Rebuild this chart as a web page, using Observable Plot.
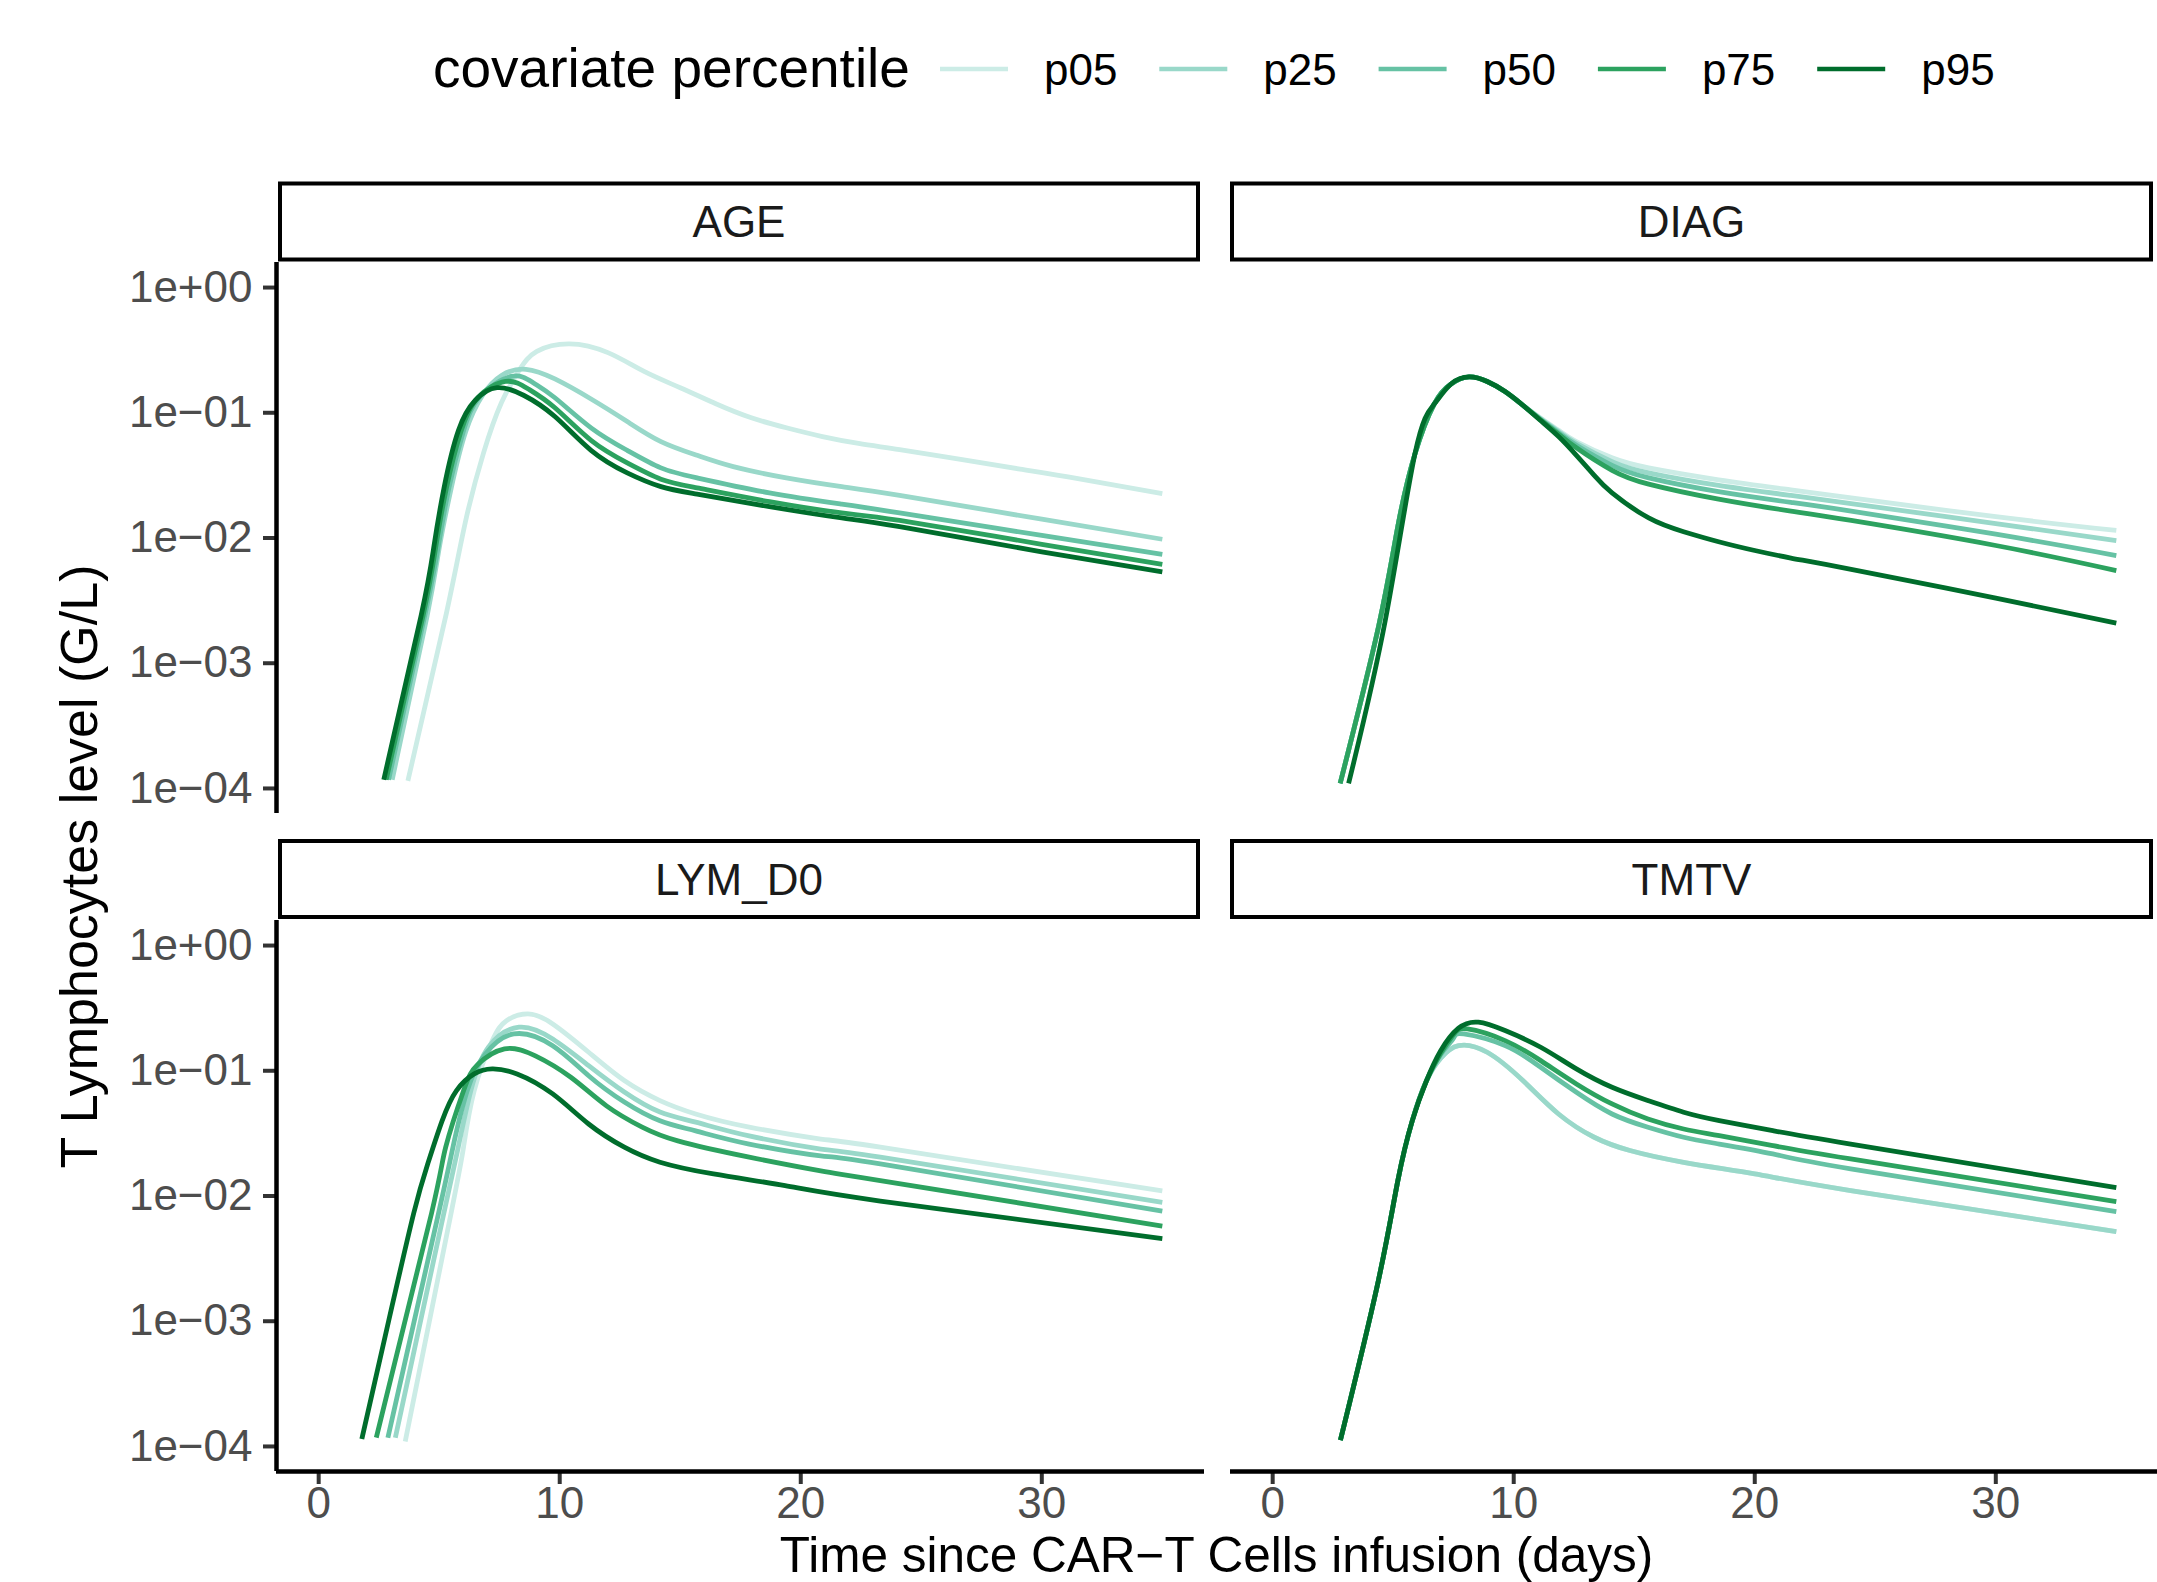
<!DOCTYPE html>
<html><head><meta charset="utf-8">
<script src="https://cdn.jsdelivr.net/npm/d3@7"></script>
<script src="https://cdn.jsdelivr.net/npm/@observablehq/plot@0.6"></script>
<style>
html,body{margin:0;padding:0;background:#fff;overflow:hidden;}
#chart{position:relative;width:2157px;height:1582px;font-family:"Liberation Sans",Arial,Helvetica,sans-serif;overflow:hidden;}
#chart svg{position:absolute;overflow:visible;}
#chart [aria-label$="tick label"]{fill:#4d4d4d;}
#chart [aria-label$="axis tick"]{stroke:#333333;stroke-width:4px;}
</style></head><body><div id="chart"></div>
<script>
// ---------------- data ----------------
const panels = ["AGE", "DIAG", "LYM_D0", "TMTV"];
const percentiles = ["p05", "p25", "p50", "p75", "p95"];
const palette = ["#ccece6", "#99d8c9", "#66c2a4", "#2ca25f", "#006d2c"];
const xTicks = [0, 10, 20, 30];
const yTicks = [1, 1e-1, 1e-2, 1e-3, 1e-4];
const yTickLabels = ["1e+00", "1e\u221201", "1e\u221202", "1e\u221203", "1e\u221204"];

// each point: [days since infusion, log10 of T lymphocytes level (G/L)]
const AGE_p05 = [[3.7,-3.94],[5.3,-2.6],[6.1,-1.86],[6.84,-1.32],[7.58,-0.92],[8.32,-0.66],[9.05,-0.51],[10.4,-0.45],[12.0,-0.52],[13.5,-0.67],[15.0,-0.80],[16.5,-0.93],[17.95,-1.04],[19.4,-1.12],[20.9,-1.19],[22.4,-1.245],[24.1,-1.295],[26.7,-1.375],[29.1,-1.45],[31.5,-1.525],[35,-1.645]];
const AGE_p25 = [[3.05,-3.93],[4.5,-2.62],[5.0,-2.08],[5.5,-1.6],[6.1,-1.15],[6.8,-0.86],[7.6,-0.7],[8.6,-0.653],[9.8,-0.73],[11.3,-0.89],[12.8,-1.07],[14.2,-1.23],[15.7,-1.34],[17.2,-1.43],[19.4,-1.52],[21.7,-1.59],[24.1,-1.66],[30,-1.85],[35,-2.01]];
const AGE_p50 = [[2.9,-3.93],[4.4,-2.62],[4.95,-2.08],[5.4,-1.6],[6.0,-1.15],[6.7,-0.87],[8.0,-0.71],[8.9,-0.76],[9.8,-0.88],[11.3,-1.12],[12.8,-1.30],[14.2,-1.44],[15.7,-1.52],[18.7,-1.64],[21.7,-1.73],[24.1,-1.80],[30,-1.98],[35,-2.13]];
const AGE_p75 = [[2.8,-3.93],[4.33,-2.62],[4.85,-2.08],[5.3,-1.6],[5.9,-1.15],[6.6,-0.88],[7.75,-0.75],[8.7,-0.81],[9.8,-0.96],[11.3,-1.22],[12.8,-1.40],[14.2,-1.53],[15.7,-1.60],[18.7,-1.71],[21.7,-1.80],[24.1,-1.86],[30,-2.05],[35,-2.21]];
const AGE_p95 = [[2.7,-3.93],[4.25,-2.62],[4.77,-2.08],[5.2,-1.6],[5.8,-1.14],[6.5,-0.9],[7.4,-0.8],[8.5,-0.86],[9.8,-1.03],[11.3,-1.30],[12.8,-1.48],[14.2,-1.59],[15.7,-1.65],[18.7,-1.75],[21.7,-1.84],[24.1,-1.91],[30,-2.11],[35,-2.27]];

const DIAG_p05 = [[2.8,-3.96],[4.4,-2.7],[5.2,-1.9],[5.9,-1.33],[6.7,-0.93],[7.4,-0.77],[8.15,-0.714],[8.9,-0.75],[9.64,-0.83],[10.38,-0.94],[11.1,-1.04],[11.86,-1.14],[12.6,-1.23],[14.08,-1.36],[15.6,-1.44],[18.5,-1.535],[21.5,-1.615],[24,-1.68],[30,-1.83],[35,-1.94]];
const DIAG_p25 = [[2.8,-3.96],[4.4,-2.7],[5.2,-1.9],[5.9,-1.33],[6.7,-0.93],[7.4,-0.77],[8.15,-0.714],[8.9,-0.75],[9.64,-0.83],[10.38,-0.94],[11.1,-1.045],[11.86,-1.15],[12.6,-1.245],[14.08,-1.39],[15.6,-1.48],[18.5,-1.58],[21.5,-1.66],[24,-1.725],[30,-1.885],[35,-2.02]];
const DIAG_p50 = [[2.8,-3.96],[4.4,-2.7],[5.2,-1.9],[5.9,-1.33],[6.7,-0.93],[7.4,-0.77],[8.15,-0.714],[8.9,-0.75],[9.64,-0.83],[10.38,-0.94],[11.1,-1.05],[11.86,-1.16],[12.6,-1.26],[14.08,-1.42],[15.6,-1.52],[18.5,-1.63],[21.5,-1.715],[24,-1.785],[30,-1.97],[35,-2.14]];
const DIAG_p75 = [[2.8,-3.96],[4.4,-2.7],[5.2,-1.9],[5.9,-1.33],[6.7,-0.93],[7.4,-0.77],[8.15,-0.714],[8.9,-0.75],[9.64,-0.83],[10.38,-0.94],[11.1,-1.055],[11.86,-1.17],[12.6,-1.28],[14.08,-1.46],[15.6,-1.57],[18.5,-1.69],[21.5,-1.785],[24,-1.86],[30,-2.06],[35,-2.26]];
const DIAG_p95 = [[3.15,-3.96],[4.67,-2.66],[5.9,-1.33],[6.7,-0.93],[7.4,-0.77],[8.15,-0.714],[8.9,-0.75],[9.64,-0.83],[10.38,-0.94],[11.1,-1.06],[11.86,-1.19],[12.6,-1.34],[13.34,-1.50],[14.08,-1.64],[15.6,-1.84],[17.05,-1.95],[18.5,-2.03],[20.0,-2.10],[21.5,-2.16],[24,-2.25],[30,-2.48],[35,-2.68]];

const LYM_D0_p05 = [[3.59,-3.96],[5.49,-2.14],[6.01,-1.61],[6.45,-1.16],[7.2,-0.76],[7.79,-0.6],[8.68,-0.546],[9.71,-0.626],[11.2,-0.852],[12.68,-1.078],[14.16,-1.238],[15.64,-1.345],[17.86,-1.45],[20.83,-1.545],[23.3,-1.61],[35,-1.96]];
const LYM_D0_p25 = [[3.18,-3.93],[5.19,-2.14],[5.79,-1.61],[6.31,-1.16],[7.05,-0.81],[8.31,-0.652],[9.71,-0.746],[11.2,-0.959],[12.68,-1.17],[14.16,-1.33],[15.64,-1.41],[17.86,-1.52],[20.83,-1.625],[23.3,-1.69],[35,-2.05]];
const LYM_D0_p50 = [[2.87,-3.93],[4.97,-2.14],[5.57,-1.61],[6.16,-1.16],[6.9,-0.87],[8.09,-0.706],[9.71,-0.80],[11.2,-1.04],[12.68,-1.25],[14.16,-1.40],[15.64,-1.48],[17.86,-1.585],[20.83,-1.68],[23.3,-1.744],[35,-2.12]];
const LYM_D0_p75 = [[2.39,-3.93],[4.68,-2.14],[5.27,-1.61],[6.01,-1.16],[6.6,-0.95],[7.71,-0.825],[8.97,-0.879],[10.46,-1.052],[11.94,-1.28],[13.42,-1.45],[14.9,-1.56],[17.86,-1.69],[20.83,-1.80],[23.3,-1.877],[35,-2.24]];
const LYM_D0_p95 = [[1.79,-3.94],[2.9,-3.0],[3.94,-2.14],[4.53,-1.74],[5.12,-1.40],[5.71,-1.16],[6.45,-1.025],[7.2,-0.985],[8.23,-1.025],[9.71,-1.185],[11.2,-1.425],[12.68,-1.61],[14.16,-1.73],[16.38,-1.824],[19.35,-1.917],[23.3,-2.04],[35,-2.34]];

const TMTV_p05 = [[2.81,-3.95],[4.38,-2.68],[5.19,-1.88],[5.79,-1.40],[6.38,-1.08],[6.97,-0.9],[7.71,-0.799],[8.9,-0.852],[10.38,-1.078],[11.86,-1.345],[13.34,-1.531],[14.82,-1.637],[17.05,-1.731],[20.0,-1.824],[23.98,-1.957],[35,-2.284]];
const TMTV_p25 = [[2.81,-3.95],[4.38,-2.68],[5.19,-1.88],[5.79,-1.40],[6.38,-1.08],[6.97,-0.9],[7.71,-0.799],[8.9,-0.852],[10.38,-1.078],[11.86,-1.345],[13.34,-1.531],[14.82,-1.637],[17.05,-1.731],[20.0,-1.824],[23.98,-1.957],[35,-2.284]];
const TMTV_p50 = [[2.81,-3.95],[4.38,-2.68],[5.19,-1.88],[5.79,-1.40],[6.38,-1.08],[6.97,-0.87],[7.5,-0.74],[7.93,-0.706],[9.64,-0.799],[11.12,-0.972],[12.6,-1.172],[14.08,-1.345],[15.57,-1.451],[17.05,-1.531],[18.53,-1.585],[20.75,-1.664],[23.98,-1.784],[35,-2.125]];
const TMTV_p75 = [[2.81,-3.95],[4.38,-2.68],[5.19,-1.88],[5.79,-1.40],[6.38,-1.08],[6.97,-0.86],[7.5,-0.71],[8.08,-0.666],[9.64,-0.759],[11.12,-0.919],[12.6,-1.105],[14.08,-1.265],[15.57,-1.385],[17.05,-1.465],[18.53,-1.518],[20.75,-1.598],[23.98,-1.704],[35,-2.045]];
const TMTV_p95 = [[2.81,-3.95],[4.38,-2.68],[5.19,-1.88],[5.79,-1.40],[6.38,-1.08],[6.97,-0.84],[7.71,-0.66],[8.53,-0.612],[9.64,-0.679],[11.12,-0.812],[12.6,-0.985],[14.08,-1.132],[15.57,-1.238],[17.05,-1.331],[18.53,-1.398],[20.75,-1.478],[23.98,-1.585],[35,-1.934]];

const series = {
  AGE: [AGE_p05, AGE_p25, AGE_p50, AGE_p75, AGE_p95],
  DIAG: [DIAG_p05, DIAG_p25, DIAG_p50, DIAG_p75, DIAG_p95],
  LYM_D0: [LYM_D0_p05, LYM_D0_p25, LYM_D0_p50, LYM_D0_p75, LYM_D0_p95],
  TMTV: [TMTV_p05, TMTV_p25, TMTV_p50, TMTV_p75, TMTV_p95]
};

const rows = [];
panels.forEach(p => series[p].forEach((pts, i) => pts.forEach(([t, l]) =>
  rows.push({panel: p, pct: percentiles[i], day: t, level: Math.pow(10, l)}))));

// ---------------- layout ----------------
const FONT = '"Liberation Sans", Arial, Helvetica, sans-serif';
const chart = document.getElementById("chart");
const xDomain = [-1.75, 36.75];
const yDomain = [Math.pow(10, -4.2), Math.pow(10, 0.2)];
const PW = 928, PH = 551;
const layout = {
  AGE:    {left: 0,    top: 262, showY: true,  showX: false},
  DIAG:   {left: 1230, top: 262, showY: false, showX: false},
  LYM_D0: {left: 0,    top: 920, showY: true,  showX: true},
  TMTV:   {left: 1230, top: 920, showY: false, showX: true}
};

panels.forEach(name => {
  const L = layout[name];
  const mL = L.showY ? 276 : 0;
  const mB = L.showX ? 62 : 0;
  const marks = [];
  if (L.showY) {
    marks.push(Plot.axisY(yTicks, {tickSize: 13, tickPadding: 11, fontSize: 44,
      tickFormat: d => yTickLabels[yTicks.indexOf(d)]}));
    marks.push(Plot.ruleX([xDomain[0]], {stroke: "#000", strokeWidth: 4.5}));
  } else {
    marks.push(Plot.axisY({ticks: [], label: null}));
  }
  if (L.showX) {
    marks.push(Plot.axisX(xTicks, {tickSize: 13, tickPadding: 2, fontSize: 44, label: null}));
    marks.push(Plot.ruleY([yDomain[0]], {stroke: "#000", strokeWidth: 4.5}));
  } else {
    marks.push(Plot.axisX({ticks: [], label: null}));
  }
  marks.push(Plot.line(rows.filter(d => d.panel === name), {
    x: "day", y: "level", z: "pct", stroke: "pct", strokeWidth: 4.8,
    curve: "natural", strokeLinecap: "butt"
  }));
  const svg = Plot.plot({
    width: mL + PW, height: PH + mB,
    marginLeft: mL, marginRight: 0, marginTop: 0, marginBottom: mB,
    style: {fontFamily: FONT, background: "transparent", overflow: "visible"},
    x: {domain: xDomain, label: null},
    y: {type: "log", domain: yDomain, label: null},
    color: {domain: percentiles, range: palette},
    marks
  });
  svg.style.left = L.left + "px";
  svg.style.top = L.top + "px";
  chart.appendChild(svg);
});

// overlay: strips, legend, axis titles
const ov = d3.select(chart).append("svg")
  .attr("width", 2157).attr("height", 1582)
  .style("left", "0px").style("top", "0px")
  .attr("font-family", FONT);

const strips = [
  {name: "AGE", x: 280, y: 183.5, w: 918},
  {name: "DIAG", x: 1232, y: 183.5, w: 919},
  {name: "LYM_D0", x: 280, y: 841, w: 918},
  {name: "TMTV", x: 1232, y: 841, w: 919}
];
strips.forEach(s => {
  ov.append("rect").attr("x", s.x).attr("y", s.y).attr("width", s.w).attr("height", 76)
    .attr("fill", "#fff").attr("stroke", "#000").attr("stroke-width", 4);
  ov.append("text").attr("x", s.x + s.w / 2).attr("y", s.y + 38 + 15.5)
    .attr("text-anchor", "middle").attr("font-size", 44).attr("fill", "#1a1a1a").text(s.name);
});

// legend
ov.append("text").attr("x", 433).attr("y", 87).attr("font-size", 55).attr("fill", "#000")
  .text("covariate percentile");
percentiles.forEach((p, i) => {
  const x0 = 940 + i * 219.3;
  ov.append("line").attr("x1", x0).attr("x2", x0 + 68).attr("y1", 69).attr("y2", 69)
    .attr("stroke", palette[i]).attr("stroke-width", 4.5);
  ov.append("text").attr("x", x0 + 104).attr("y", 85).attr("font-size", 44).attr("fill", "#000").text(p);
});

// axis titles
ov.append("text").attr("transform", "translate(97,866.5) rotate(-90)")
  .attr("text-anchor", "middle").attr("font-size", 52).attr("fill", "#000")
  .text("T Lymphocytes level (G/L)");
ov.append("text").attr("x", 1216.5).attr("y", 1571.5)
  .attr("text-anchor", "middle").attr("font-size", 49.5).attr("fill", "#000")
  .text("Time since CAR\u2212T Cells infusion (days)");
</script></body></html>
